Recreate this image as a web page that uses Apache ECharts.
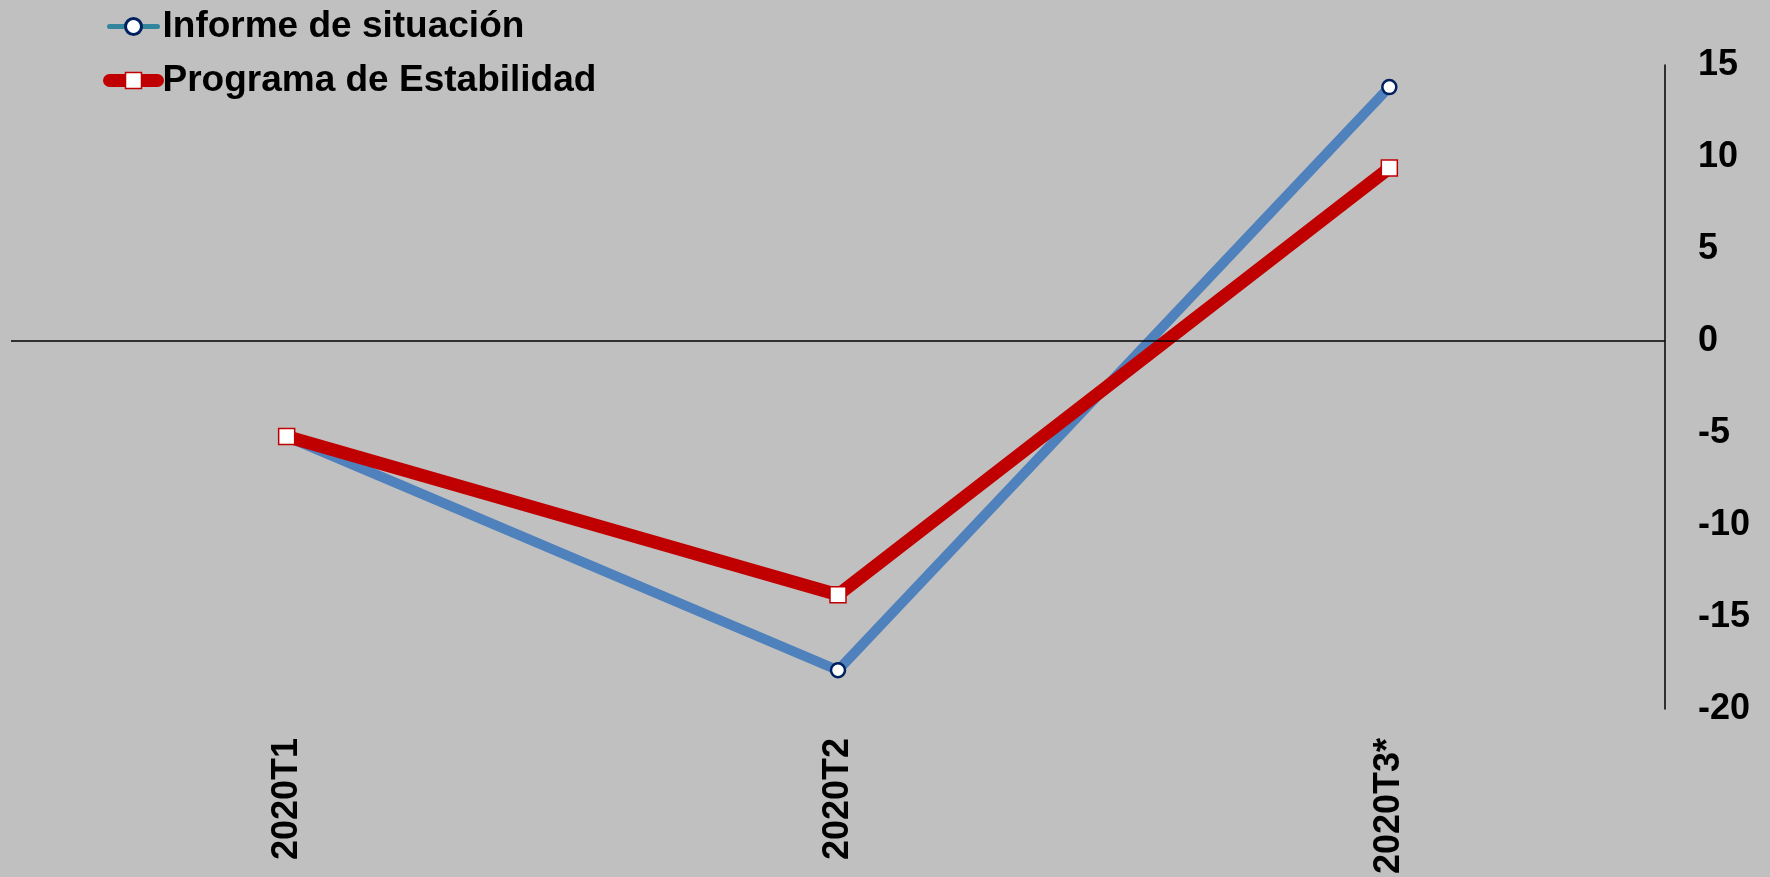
<!DOCTYPE html>
<html><head><meta charset="utf-8">
<script src="https://cdn.jsdelivr.net/npm/echarts@6/dist/echarts.min.js"></script>
<style>html,body{margin:0;padding:0;background:#C0C0C0}#c{width:1770px;height:877px}</style>
</head><body><div id="c"></div>
<script>
var categories = ['2020T1', '2020T2', '2020T3*'];
var informe = [-5.2, -17.9, 13.8];
var programa = [-5.2, -13.8, 9.4];
var yTicks = {min: -20, max: 15, interval: 5};

var font = 'Arial, "Liberation Sans", sans-serif';
var chart = echarts.init(document.getElementById('c'));
chart.setOption({
  backgroundColor: '#C0C0C0',
  animation: false,
  grid: {left: 11, right: 105, top: 65, bottom: 166, containLabel: false},
  legend: {
    orient: 'vertical', left: 98, top: 3, itemWidth: 48, itemHeight: 20, itemGap: 17,
    textStyle: {fontFamily: font, fontWeight: 'bold', fontSize: 37, color: '#000', lineHeight: 36},
    data: [
      {name: 'Informe de situación',
       lineStyle: {color: '#31859C', width: 5, cap: 'round'},
       itemStyle: {color: '#FFFFFF', borderColor: '#002060', borderWidth: 3}},
      {name: 'Programa de Estabilidad',
       lineStyle: {color: '#C00000', width: 13, cap: 'round'},
       itemStyle: {color: '#FFFFFF', borderColor: '#C00000', borderWidth: 1.5}}
    ]
  },
  xAxis: {
    type: 'category', data: categories, boundaryGap: true,
    axisLine: {show: false, onZero: false}, axisTick: {show: false}, splitLine: {show: false},
    axisLabel: {rotate: 90, margin: 29, color: '#000', fontFamily: font, fontWeight: 'bold', fontSize: 36}
  },
  yAxis: {
    type: 'value', position: 'right', min: yTicks.min, max: yTicks.max, interval: yTicks.interval,
    axisLine: {show: true, lineStyle: {color: '#000', width: 1.5}}, axisTick: {show: false}, splitLine: {show: false},
    axisLabel: {margin: 33, color: '#000', fontFamily: font, fontWeight: 'bold', fontSize: 36}
  },
  series: [
    {
      name: 'Informe de situación', type: 'line', data: informe,
      symbol: 'circle', symbolSize: 14,
      lineStyle: {color: '#4F81BD', width: 10},
      itemStyle: {color: '#FFFFFF', borderColor: '#002060', borderWidth: 2.5},
      markLine: {
        silent: true, symbol: 'none', label: {show: false},
        lineStyle: {color: '#000', width: 1.5, type: 'solid'},
        data: [{yAxis: 0}]
      },
      z: 2
    },
    {
      name: 'Programa de Estabilidad', type: 'line', data: programa,
      symbol: 'rect', symbolSize: 16,
      lineStyle: {color: '#C00000', width: 13},
      itemStyle: {color: '#FFFFFF', borderColor: '#C00000', borderWidth: 1.5},
      z: 3
    }
  ]
});
</script>
</body></html>
